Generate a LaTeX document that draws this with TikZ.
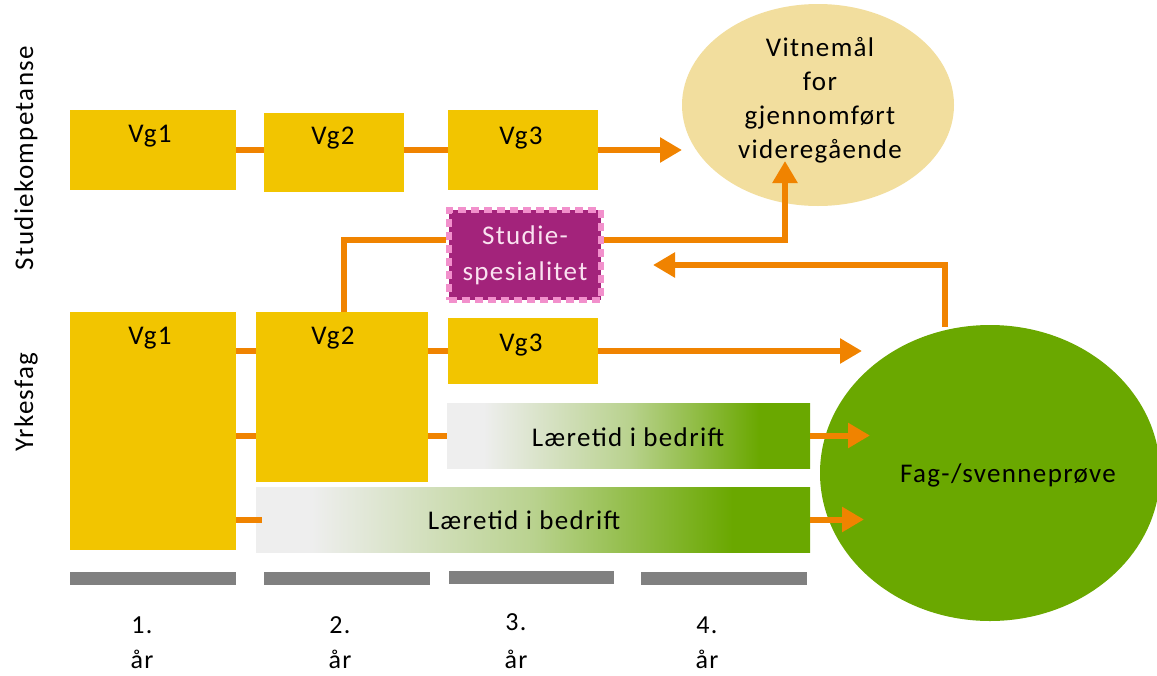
\documentclass[tikz,border=0pt]{standalone}
\usepackage{fontspec}
\setmainfont{Carlito}[LetterSpace=5]
\usetikzlibrary{shapes.geometric,arrows.meta}
\definecolor{gul}{HTML}{F2C500}
\definecolor{oransje}{HTML}{F08300}
\definecolor{beige}{HTML}{F2DE9E}
\definecolor{gronn}{HTML}{6AA800}
\definecolor{lys}{HTML}{EEEEEE}
\definecolor{lilla}{HTML}{A3237B}
\definecolor{rosa}{HTML}{F290CC}
\definecolor{tekstrosa}{HTML}{FAE2F0}
\definecolor{graa}{HTML}{808080}
\pgfdeclarehorizontalshading{laere}{100bp}{color(0bp)=(lys); color(25bp)=(lys); color(30bp)=(lys); color(50bp)=(gronn!40!lys); color(68bp)=(gronn); color(75bp)=(gronn); color(100bp)=(gronn)}
\begin{document}
\begin{tikzpicture}[x=1pt,y=-1pt,
  every node/.style={inner sep=0pt, font=\fontsize{27}{34}\selectfont},
  gulboks/.style={rectangle, fill=gul, draw=none},
  conn/.style={draw=oransje, line width=6pt},
  arr/.style={draw=oransje, line width=6pt, -{Triangle[length=22pt,width=24pt]}},
  laerebar/.style={rectangle, shading=laere, draw=none, minimum height=65pt},
  graabar/.style={rectangle, fill=graa, minimum height=13pt},
  lbl/.style={font=\fontsize{27}{34}\selectfont, text=black},
  aar/.style={font=\fontsize{26}{32}\selectfont, text=black}
]
\useasboundingbox (0,0) rectangle (1157,675);

% ellipses
\node[ellipse, fill=beige, minimum width=272pt, minimum height=202pt] (vit) at (818,105) {};
\node[lbl, align=center, font=\fontsize{27}{34}\selectfont] (vittxt) at (820,100) {Vitnemål\\for\\gjennomført\\videregående};
\node[ellipse, fill=gronn, minimum width=340pt, minimum height=296pt] (fag) at (990,473) {};
\node[lbl] (fagtxt) at (1008,475) {Fag-/svenneprøve};

% top row
\node[gulboks, minimum width=166pt, minimum height=80pt] (t1) at (153,150) {};
\node[gulboks, minimum width=140pt, minimum height=79pt] (t2) at (334,152) {};
\node[gulboks, minimum width=150pt, minimum height=80pt] (t3) at (523,150) {};
\node[lbl] (t1txt) at (150,136) {Vg1};
\node[lbl] (t2txt) at (333,138) {Vg2};
\node[lbl] (t3txt) at (521,138) {Vg3};

% bottom row
\node[gulboks, minimum width=166pt, minimum height=238pt] (b1) at (153,431) {};
\node[gulboks, minimum width=172pt, minimum height=170pt] (b2) at (342,397) {};
\node[gulboks, minimum width=150pt, minimum height=66pt] (b3) at (523,351) {};
\node[lbl] (b1txt) at (150,338) {Vg1};
\node[lbl] (b2txt) at (333,338) {Vg2};
\node[lbl] (b3txt) at (521,345) {Vg3};

% laeretid bars
\node[laerebar, minimum width=363pt] (l1) at (628.5,435.5) {};
\node[laerebar, minimum width=554pt] (l2) at (533,519.5) {};
\node[lbl] (l1txt) at (628,437) {Læretid i bedrift};
\node[lbl] (l2txt) at (524,520) {Læretid i bedrift};

% studiespesialitet
\node[rectangle, fill=lilla, draw=rosa, line width=6pt, dash pattern=on 8pt off 5pt,
      minimum width=152pt, minimum height=90pt, align=center, text=tekstrosa,
      font=\fontsize{27}{36}\selectfont] (ss) at (525,255) {Studie-\\spesialitet};

% coordinates for free ends
\coordinate (vitleft) at (682,150);
\coordinate (vitin) at (785,161);
\coordinate (fagin1) at (862,0);
\coordinate (fagin2) at (870,0);
\coordinate (fagin3) at (864,0);
\coordinate (fagtop) at (945,327);
\coordinate (ssin) at (653,265);

% connectors top
\draw[conn] (t1.east) -- (t1.east -| t2.west);
\draw[conn] (t2.east |- t3) -- (t3.west);
\draw[arr] (t3.east) -- (t3.east -| vitleft);

% studie path
\draw[conn] (b2.north -| 344,0) |- (ss.west |- 0,240);
\draw[arr] (ss.east |- 0,240) -| (vitin);
\draw[arr] (fagtop) |- (ssin);

% connectors bottom
\draw[conn] (b1.east |- b3) -- (b2.west |- b3);
\draw[conn] (b1.east |- l1) -- (b2.west |- l1);
\draw[conn] (b1.east |- l2) -- ([xshift=6pt]l2.west);
\draw[conn] (b2.east |- b3) -- (b3.west);
\draw[conn] (b2.east |- l1) -- (l1.west);
\draw[arr] (b3.east) -- (b3.east -| fagin1);
\draw[arr] (l1.east) -- (l1.east -| fagin2);
\draw[arr] (l2.east) -- (l2.east -| fagin3);

% grey year bars
\node[graabar, minimum width=166pt] (g1) at (153,578.5) {};
\node[graabar, minimum width=166pt] (g2) at (347,578.5) {};
\node[graabar, minimum width=165pt] (g3) at (531.5,577) {};
\node[graabar, minimum width=166pt] (g4) at (724,578.5) {};

\node[aar] (y1) at (142,625) {1.};
\node[aar] (y2) at (340,625) {2.};
\node[aar] (y3) at (516,622) {3.};
\node[aar] (y4) at (707,625) {4.};
\node[aar] (a1) at (142,659) {år};
\node[aar] (a2) at (340,659) {år};
\node[aar] (a3) at (516,659) {år};
\node[aar] (a4) at (707,659) {år};

% side labels
\node[lbl, rotate=90] (sk) at (26,158) {Studiekompetanse};
\node[lbl, rotate=90] (yf) at (26,402) {Yrkesfag};
\end{tikzpicture}
\end{document}
